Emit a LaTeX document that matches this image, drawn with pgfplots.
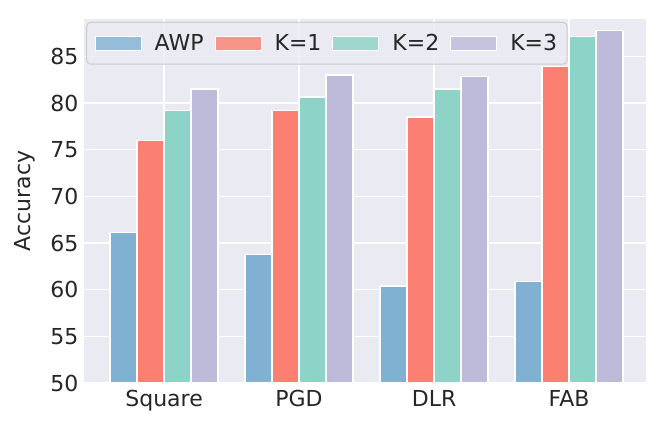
\documentclass[border=0pt]{standalone}
\usepackage{fontspec}
\setmainfont{DejaVu Sans}
\usepackage{pgfplots}
\pgfplotsset{compat=1.18}
\definecolor{axbg}{HTML}{EAEAF2}
\definecolor{cA}{HTML}{80B1D3}
\definecolor{cB}{HTML}{FB8072}
\definecolor{cC}{HTML}{8DD3C7}
\definecolor{cD}{HTML}{BEBADA}
\definecolor{txt}{HTML}{262626}
\begin{document}
\begin{tikzpicture}
\path[use as bounding box] (-84bp,-48bp) rectangle (581bp,383bp);
\begin{axis}[
  at={(0,0)}, anchor=south west,
  scale only axis, width=562bp, height=364bp,
  xmin=-0.593, xmax=3.57, ymin=50, ymax=89,
  xtick={0,1,2,3}, xticklabels={Square,PGD,DLR,FAB},
  ytick={50,55,...,85},
  ybar=0pt, bar width=0.2,
  axis background/.style={fill=axbg},
  axis line style={draw=none},
  major tick length=0pt,
  grid=major, major grid style={white, line width=1.3bp},
  tick label style={font=\fontsize{22bp}{26bp}\selectfont, text=txt},
  xticklabel style={yshift=-4bp},
  yticklabel style={xshift=-2bp},
  /pgf/number format/assume math mode=true,
  ylabel={Accuracy},
  ylabel style={font=\fontsize{22bp}{26bp}\selectfont, text=txt, yshift=9bp},
  every axis plot/.append style={draw=white, line width=1.2bp},
  legend image code/.code={\draw[#1,draw=white,line width=1bp,sharp corners] (0bp,-7bp) rectangle (46bp,7bp);},
  legend style={at={(0.004,0.992)}, anchor=north west, fill=axbg, fill opacity=0.8, text opacity=1,
    draw=black!20, line width=1bp, rounded corners=4bp, font=\fontsize{22bp}{26bp}\selectfont, text=txt,
    /tikz/every odd column/.append style={column sep=11bp},
    /tikz/every even column/.append style={column sep=9bp},
    inner xsep=8bp, inner ysep=10bp},
  legend columns=4,
  legend cell align=left,
]
\addplot[fill=cA] coordinates {(0,66.1) (1,63.75) (2,60.4) (3,60.9)};
\addplot[fill=cB] coordinates {(0,76.0) (1,79.2) (2,78.5) (3,83.9)};
\addplot[fill=cC] coordinates {(0,79.2) (1,80.65) (2,81.5) (3,87.1)};
\addplot[fill=cD] coordinates {(0,81.5) (1,83.0) (2,82.8) (3,87.8)};
\legend{AWP,K=1,K=2,K=3}
\end{axis}
\end{tikzpicture}
\end{document}
